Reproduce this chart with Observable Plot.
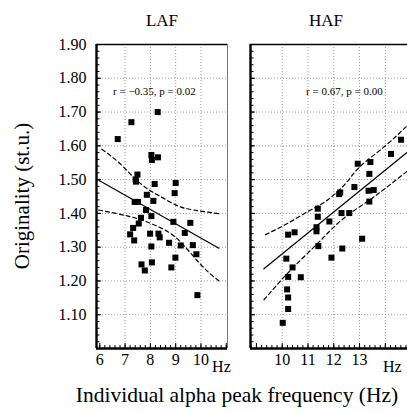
<!DOCTYPE html>
<html><head><meta charset="utf-8">
<script src="https://cdn.jsdelivr.net/npm/d3@7"></script>
<script src="https://cdn.jsdelivr.net/npm/@observablehq/plot@0.6"></script>
<style>
body{margin:0;background:#fff;}
#wrap{position:relative;width:407px;height:411px;overflow:hidden;font-family:"Liberation Serif","Times New Roman",serif;color:#000;background:#fff;}
.abs{position:absolute;white-space:nowrap;}
#wrap svg text{font-family:"Liberation Serif","Times New Roman",serif;}
</style></head><body><div id="wrap"></div>
<script>
// ---------- data ----------
const titles = ["LAF", "HAF"];
const stats = ["r = \u22120.35, p = 0.02", "r = 0.67, p = 0.00"];
const yTicks = [1.1, 1.2, 1.3, 1.4, 1.5, 1.6, 1.7, 1.8, 1.9];
const xTicksLAF = [6, 7, 8, 9, 10];
const xTicksHAF = [10, 11, 12, 13];
const xGridLAF = [7, 8, 9, 10];
const xGridHAF = [10, 11, 12, 13, 14];

const lafX = [6.71, 7.25, 8.29, 8.04, 8.06, 8.30, 7.49, 7.42, 7.43, 8.17, 9.00, 7.86, 8.96, 8.12, 7.38, 7.51, 7.83, 8.04, 7.63, 8.91, 9.58, 7.54, 7.32, 9.36, 7.20, 7.99, 8.32, 8.37, 7.36, 8.74, 9.20, 9.68, 8.04, 9.82, 8.99, 7.65, 8.06, 8.83, 7.78, 9.86];
const lafY = [1.62, 1.67, 1.70, 1.573, 1.558, 1.566, 1.515, 1.50, 1.494, 1.487, 1.49, 1.455, 1.46, 1.437, 1.434, 1.434, 1.41, 1.392, 1.387, 1.375, 1.372, 1.37, 1.357, 1.342, 1.338, 1.34, 1.34, 1.329, 1.32, 1.313, 1.305, 1.306, 1.302, 1.279, 1.269, 1.249, 1.255, 1.24, 1.231, 1.158];

const hafX = [14.61, 14.22, 12.93, 13.42, 13.38, 12.80, 12.21, 12.25, 13.35, 13.55, 13.38, 11.38, 11.38, 12.30, 12.60, 11.83, 11.33, 11.33, 10.23, 10.48, 13.10, 11.40, 12.33, 10.16, 11.91, 10.40, 10.23, 10.72, 10.19, 10.23, 10.23, 10.02];
const hafY = [1.618, 1.576, 1.547, 1.552, 1.517, 1.478, 1.457, 1.462, 1.467, 1.469, 1.435, 1.414, 1.39, 1.401, 1.401, 1.376, 1.359, 1.347, 1.337, 1.344, 1.325, 1.303, 1.296, 1.266, 1.269, 1.24, 1.212, 1.211, 1.175, 1.151, 1.117, 1.076];

const fitLAF = [[5.87, 1.502], [10.71, 1.297]];
const upLAF = [[6.08, 1.59], [6.76, 1.55], [7.36, 1.505], [7.9, 1.472], [8.40, 1.45], [9.06, 1.423], [9.72, 1.41], [10.71, 1.399]];
const loLAF = [[5.95, 1.41], [6.63, 1.40], [7.22, 1.39], [7.75, 1.378], [8.41, 1.357], [9.13, 1.32], [10.0, 1.248], [10.71, 1.20]];

const fitHAF = [[9.29, 1.236], [14.85, 1.581]];
const upHAF = [[9.35, 1.337], [10.2, 1.37], [11.1, 1.41], [11.8, 1.442], [12.5, 1.492], [13.04, 1.54], [14.0, 1.60], [14.85, 1.66]];
const loHAF = [[9.29, 1.144], [10.3, 1.23], [11.36, 1.31], [12.3, 1.38], [13.3, 1.435], [14.1, 1.48], [14.85, 1.525]];

// annotation anchor points (data units)
const statPos = [[8.16, 1.761], [12.41, 1.761]];
const hzPos = [10.81, 14.27];

// ---------- layout ----------
const FONT = '"Liberation Serif","Times New Roman",serif';
const wrap = document.getElementById("wrap");
const yDomain = [1.0, 1.9];
const H = 380, MT = 44, MB = 32;
const yMinor = d3.range(1.0, 1.9001, 0.02);

function panel({xs, ys, fit, up, lo, xDomain, xTicks, xGrid, left, width, mL, mR, yLabels, stat, statAt, hz, rightEdge}) {
  const pts = xs.map((x, i) => ({x, y: ys[i]}));
  const xMinor = d3.range(Math.ceil(xDomain[0] * 5) / 5, xDomain[1], 0.2);
  const xMajor = d3.range(Math.ceil(xDomain[0]), xDomain[1], 1);
  const fw = width - mL - mR, fh = H - MT - MB;
  const marks = [
    Plot.ruleY(yTicks.slice(0, -1), {stroke: "#9a9a9a", strokeDasharray: "1,2", strokeWidth: 1}),
    Plot.ruleX(xGrid, {stroke: "#9a9a9a", strokeDasharray: "1,2", strokeWidth: 1}),
    Plot.tickY(yMinor, {y: d => d, insetRight: fw - 3.5, stroke: "black", strokeWidth: 1}),
    Plot.tickY(yTicks, {y: d => d, insetRight: fw - 5, stroke: "black", strokeWidth: 1}),
    Plot.tickX(xMinor, {x: d => d, insetTop: fh - 3, stroke: "black", strokeWidth: 1}),
    Plot.tickX(xMajor, {x: d => d, insetTop: fh - 5, stroke: "black", strokeWidth: 1}),
    Plot.line(up, {x: d => d[0], y: d => d[1], curve: "natural", stroke: "black", strokeWidth: 1.2, strokeDasharray: "4,3"}),
    Plot.line(lo, {x: d => d[0], y: d => d[1], curve: "natural", stroke: "black", strokeWidth: 1.2, strokeDasharray: "4,3"}),
    Plot.line(fit, {x: d => d[0], y: d => d[1], stroke: "black", strokeWidth: 1.2}),
    Plot.dot(pts, {x: "x", y: "y", symbol: "square", r: 3.4, fill: "black", stroke: "none"}),
    Plot.text([stat], {x: () => statAt[0], y: () => statAt[1], text: d => d, fontSize: 11, fontFamily: FONT, fill: "black"}),
    Plot.text(["Hz"], {x: () => hz, frameAnchor: "bottom", dy: 18, text: d => d, fontSize: 16, fontFamily: FONT, fill: "black", lineAnchor: "middle"}),
    Plot.axisX(xTicks, {tickSize: 0, tickPadding: 5, fontSize: 16, fontFamily: FONT, label: null, tickFormat: d => String(d)}),
    Plot.ruleY([yDomain[1]], {stroke: "black", strokeWidth: 1.6}),
    Plot.ruleX([xDomain[0]], {stroke: "black", strokeWidth: 2.4}),
    Plot.ruleY([yDomain[0]], {stroke: "black", strokeWidth: 2.4})
  ];
  if (rightEdge) marks.push(Plot.ruleX([xDomain[1]], {stroke: "#777", strokeWidth: 1}));
  if (yLabels) marks.push(Plot.axisY(yTicks, {tickSize: 0, tickPadding: 10, fontSize: 16, fontFamily: FONT, label: null, tickFormat: d => d.toFixed(2)}));
  const svg = Plot.plot({
    width, height: H, marginLeft: mL, marginRight: mR, marginTop: MT, marginBottom: MB,
    x: {domain: xDomain, label: null},
    y: {domain: yDomain, label: null, axis: yLabels ? undefined : null},
    style: {fontSize: "16px", background: "transparent", color: "black", overflow: "visible"},
    marks
  });
  svg.setAttribute("font-family", FONT);
  svg.style.fontFamily = FONT;
  svg.style.position = "absolute";
  svg.style.left = left + "px";
  svg.style.top = "0px";
  wrap.appendChild(svg);
}

panel({xs: lafX, ys: lafY, fit: fitLAF, up: upLAF, lo: loLAF, xDomain: [5.87, 11.05], xTicks: xTicksLAF, xGrid: xGridLAF,
  left: 0, width: 240, mL: 96, mR: 13, yLabels: true, stat: stats[0], statAt: statPos[0], hz: hzPos[0], rightEdge: true});
panel({xs: hafX, ys: hafY, fit: fitHAF, up: upHAF, lo: loHAF, xDomain: [8.77, 14.86], xTicks: xTicksHAF, xGrid: xGridHAF,
  left: 240, width: 167, mL: 10, mR: 0, yLabels: false, stat: stats[1], statAt: statPos[1], hz: hzPos[1], rightEdge: false});

function label(text, cx, cy, size, rotate) {
  const d = document.createElement("div");
  d.className = "abs";
  d.textContent = text;
  d.style.fontSize = size + "px";
  d.style.lineHeight = size + "px";
  d.style.left = cx + "px";
  d.style.top = cy + "px";
  d.style.transform = "translate(-50%,-50%)" + (rotate ? " rotate(-90deg)" : "");
  wrap.appendChild(d);
}
label(titles[0], 162, 20, 17);
label(titles[1], 326, 20, 17);
label("Originality (st.u.)", 22, 196, 21, true);
label("Individual alpha peak frequency (Hz)", 237, 396, 21.5);
</script>
</body></html>
